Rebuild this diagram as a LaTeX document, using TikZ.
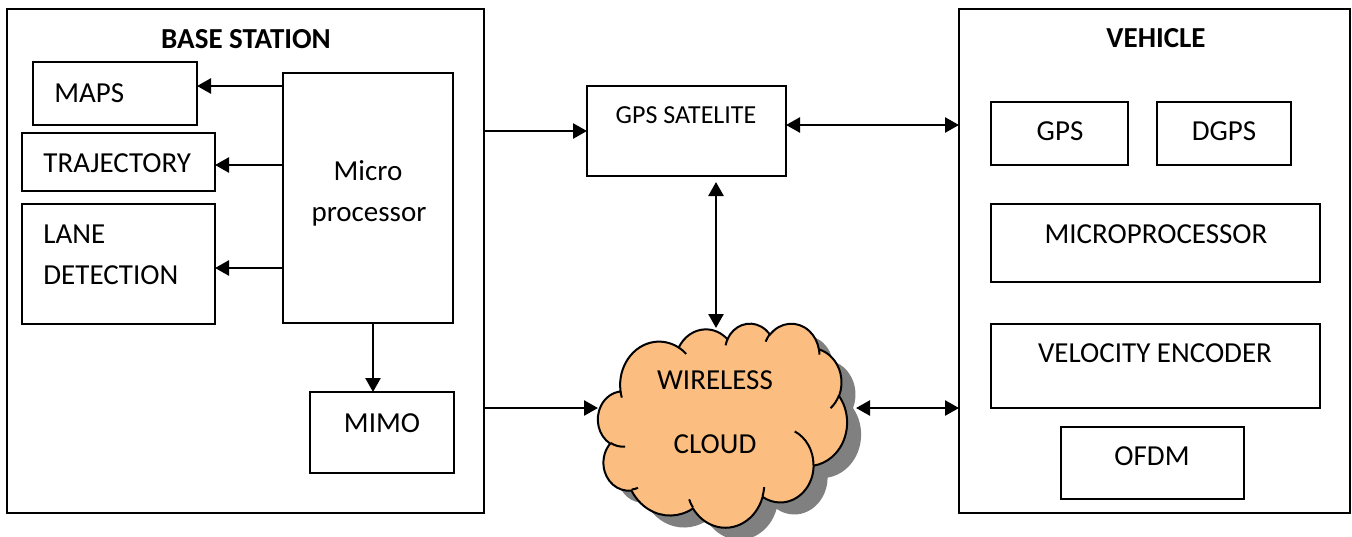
\documentclass[tikz,border=0pt]{standalone}
\usepackage{fontspec}
\setmainfont{Carlito}
\usetikzlibrary{arrows.meta,fit}
\definecolor{cloudfill}{RGB}{251,190,128}
\definecolor{cloudshade}{RGB}{128,128,128}

% one elliptical arc given by x radius, y radius, start angle and sweep (visual angles)
\newcommand\cldarc[4]{%
  \pgfmathsetmacro\cldts{atan2((#1)*sin(#3),(#2)*cos(#3))}%
  \pgfmathsetmacro\cldtz{atan2((#1)*sin((#3)+(#4)),(#2)*cos((#3)+(#4)))}%
  \pgfmathsetmacro\cldte{\cldts+mod(\cldtz-\cldts+720,360)}%
  \pgfpatharcaxes{\cldts}{\cldte}{\pgfpointxy{#1}{0}}{\pgfpointxy{0}{#2}}%
}
% outline of the cloud, in a 432 x 432 frame
\newcommand\cldoutline{%
  \pgfpathmoveto{\pgfpointxy{39.00}{143.70}}%
  \cldarc{67.53}{91.90}{-190.4875}{123.7805}%
  \cldarc{53.33}{72.67}{-144.1024}{89.9452}%
  \cldarc{43.65}{59.45}{-145.8079}{99.7230}%
  \cldarc{48.57}{65.95}{-130.9861}{117.2417}%
  \cldarc{53.33}{72.73}{-78.7089}{109.0269}%
  \cldarc{67.75}{92.20}{-46.2673}{130.2690}%
  \cldarc{57.85}{78.67}{0.6250}{114.0333}%
  \cldarc{67.52}{92.15}{22.4516}{115.1726}%
  \cldarc{77.20}{105.43}{66.2426}{75.7110}%
  \cldarc{43.60}{59.18}{-274.9421}{146.7356}%
  \cldarc{43.45}{59.45}{-246.8285}{152.5189}%
  \pgfpathclose}
% small inner arcs where the puffs meet
\newcommand\cldinner{%
  \pgfpathmoveto{\pgfpointxy{46.93}{261.77}}\cldarc{43.45}{59.45}{86.7420}{26.4295}%
  \pgfpathmoveto{\pgfpointxy{69.28}{348.99}}\cldarc{43.60}{59.18}{73.6105}{11.4475}%
  \pgfpathmoveto{\pgfpointxy{164.78}{390.90}}\cldarc{67.52}{92.15}{137.6242}{14.0811}%
  \pgfpathmoveto{\pgfpointxy{288.27}{347.51}}\cldarc{67.52}{92.15}{6.4533}{15.9984}%
  \pgfpathmoveto{\pgfpointxy{341.29}{229.54}}\cldarc{57.85}{78.67}{-70.2924}{70.9174}%
  \pgfpathmoveto{\pgfpointxy{417.98}{153.54}}\cldarc{53.33}{72.73}{30.3180}{27.7515}%
  \pgfpathmoveto{\pgfpointxy{383.24}{54.26}}\cldarc{48.57}{65.95}{-13.7443}{14.8589}%
  \pgfpathmoveto{\pgfpointxy{290.78}{39.52}}\cldarc{48.57}{65.95}{-149.1815}{18.1954}%
  \pgfpathmoveto{\pgfpointxy{221.41}{47.20}}\cldarc{43.65}{59.45}{-163.4943}{17.6864}%
  \pgfpathmoveto{\pgfpointxy{140.00}{51.92}}\cldarc{67.53}{91.90}{-66.7070}{12.3194}%
  \pgfpathmoveto{\pgfpointxy{41.27}{157.89}}\cldarc{67.53}{91.90}{157.6544}{11.8582}}

\begin{document}
\begin{tikzpicture}[x=0.5pt,y=-0.5pt,
  box/.style={draw, line width=1.1pt, inner sep=0pt, outer sep=0pt},
  lbl/.style={inner sep=0pt, anchor=base, font=\fontsize{14.5}{17}\selectfont},
  lbll/.style={lbl, anchor=base west},
  head/.style={lbl, font=\fontsize{14.5}{17}\selectfont\bfseries},
  arr/.style={-{Triangle[length=7pt,width=7.5pt]}, line width=1.3pt},
  darr/.style={{Triangle[length=7pt,width=7.5pt]}-{Triangle[length=7pt,width=7.5pt]}, line width=1.3pt}]
\useasboundingbox (0,0) rectangle (1352,536);

% base station
\node[box, fit={(7,9) (484,513)}] (base) {};
\node[box, fit={(33,62) (197,125)}] (maps) {};
\node[box, fit={(22,133) (215,191)}] (traj) {};
\node[box, fit={(22,204) (215,324)}] (lane) {};
\node[box, fit={(283,73) (453,323)}] (micro) {};
\node[box, fit={(310,392) (454,473)}] (mimo) {};
\node[head] (tbase) at (246,48) {BASE STATION};
\node[lbll] (tmaps) at (54,102) {MAPS};
\node[lbll] (ttraj) at (43,172) {TRAJECTORY};
\node[lbll] (tlane) at (43,243) {LANE};
\node[lbll] (tdet) at (43,284) {DETECTION};
\node[lbl] (tmicro) at (368,180) {Micro};
\node[lbl] (tproc) at (369,221) {processor};
\node[lbl] (tmimo) at (382,432) {MIMO};

% satellite
\node[box, fit={(587,86) (786,176)}] (sat) {};
\node[lbl, font=\fontsize{13}{15}\selectfont] (tsat) at (686,123) {GPS SATELITE};

% vehicle
\node[box, fit={(959,9) (1350,513)}] (veh) {};
\node[box, fit={(991,102) (1128,165)}] (vgps) {};
\node[box, fit={(1157,102) (1291,165)}] (dgps) {};
\node[box, fit={(991,204) (1320,282)}] (vmp) {};
\node[box, fit={(991,324) (1320,408)}] (venc) {};
\node[box, fit={(1061,427) (1244,499)}] (ofdm) {};
\node[head] (tveh) at (1156,47) {VEHICLE};
\node[lbl] (tvgps) at (1060,140) {GPS};
\node[lbl] (tdgps) at (1224,140) {DGPS};
\node[lbl] (tvmp) at (1156,243) {MICROPROCESSOR};
\node[lbl] (tvenc) at (1155,362) {VELOCITY ENCODER};
\node[lbl] (tofdm) at (1152,465) {OFDM};

% wireless cloud with its shadow
\begin{scope}[shift={(598,323)}, x=0.288194pt, y=-0.236111pt]
  \begin{scope}[shift={(24.3,25.4)}]
    \pgfsetfillcolor{cloudshade}\cldoutline\pgfusepath{fill}
  \end{scope}
  \pgfsetfillcolor{cloudfill}\pgfsetstrokecolor{black}\pgfsetlinewidth{1pt}%
  \pgfsetroundjoin
  \cldoutline\pgfusepath{fill,stroke}
  \cldinner\pgfusepath{stroke}
\end{scope}
\node[lbl] (tcl1) at (715,389) {WIRELESS};
\node[lbl] (tcl2) at (715,453) {CLOUD};
\coordinate (cleft) at (598,408);
\coordinate (cright) at (856,408);
\coordinate (ctop) at (716,328);

% connectors
\draw[arr] ([yshift=3.75pt]micro.west |- maps.east) -- ([yshift=3.75pt]maps.east);
\draw[arr] ([yshift=-1.5pt]micro.west |- traj.east) -- ([yshift=-1.5pt]traj.east);
\draw[arr] ([yshift=-2pt]micro.west |- lane.east) -- ([yshift=-2pt]lane.east);
\draw[arr] ([xshift=2.5pt]micro.south) -- ([xshift=2.5pt]micro.south |- mimo.north);
\draw[arr] (base.east |- sat.west) -- (sat.west);
\draw[darr] ([yshift=3pt]sat.east) -- ([yshift=3pt]sat.east -| veh.west);
\draw[darr] ([xshift=14.75pt,yshift=-3pt]sat.south) -- (ctop);
\draw[arr] (base.east |- cleft) -- (cleft);
\draw[darr] (cright) -- (cright -| veh.west);
\end{tikzpicture}
\end{document}
